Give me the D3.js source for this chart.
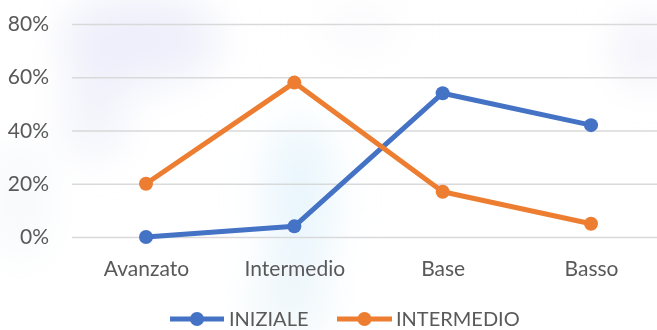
<!DOCTYPE html>
<html>
<head>
<meta charset="utf-8">
<script src="https://cdn.jsdelivr.net/npm/d3@7"></script>
<style>
  html, body { margin: 0; padding: 0; background: #ffffff; overflow: hidden; }
  svg { display: block; }
</style>
</head>
<body>
<svg id="chart" width="657" height="330"></svg>
<script>
// Levels on the x axis
const categories = ["Avanzato", "Intermedio", "Base", "Basso"];
// Share of students per level, two assessments
const seriesNames = ["INIZIALE", "INTERMEDIO"];
const iniziale = [0.00, 0.04, 0.54, 0.42];
const intermedio = [0.20, 0.58, 0.17, 0.05];
const yTicks = [0, 0.2, 0.4, 0.6, 0.8];

const colors = { INIZIALE: "#4472C4", INTERMEDIO: "#ED7D31" };
const series = [
  { name: seriesNames[0], values: iniziale },
  { name: seriesNames[1], values: intermedio }
];

const W = 657, H = 330;
const svg = d3.select("#chart");
const font = "Lato, 'Open Sans', sans-serif";

// Soft washed-out backdrop
const defs = svg.append("defs");
defs.append("filter").attr("id", "soft")
  .attr("x", "-50%").attr("y", "-50%").attr("width", "200%").attr("height", "200%")
  .append("feGaussianBlur").attr("stdDeviation", 20);
const bg = svg.append("g").attr("filter", "url(#soft)");
[
  { cx: 140, cy: 40, rx: 80, ry: 45, c: "#e3e5f7", o: 0.6 },
  { cx: 95, cy: 110, rx: 30, ry: 50, c: "#e6e8f7", o: 0.5 },
  { cx: 300, cy: 200, rx: 35, ry: 80, c: "#dcf0fb", o: 0.6 },
  { cx: 290, cy: 300, rx: 40, ry: 40, c: "#e2eff8", o: 0.5 },
  { cx: 645, cy: 50, rx: 30, ry: 35, c: "#e8e8f7", o: 0.6 },
  { cx: 360, cy: 30, rx: 40, ry: 20, c: "#efeff7", o: 0.4 },
  { cx: 20, cy: 200, rx: 30, ry: 60, c: "#f0f4f7", o: 0.5 }
].forEach(b => bg.append("ellipse")
  .attr("cx", b.cx).attr("cy", b.cy).attr("rx", b.rx).attr("ry", b.ry)
  .attr("fill", b.c).attr("opacity", b.o));

const x = d3.scalePoint().domain(categories).range([146, 591]);
const y = d3.scaleLinear().domain([0, 0.8]).range([237, 24]);

// Gridlines and percent labels
const yAxis = d3.axisLeft(y).tickValues(yTicks).tickFormat(d3.format(".0%"))
  .tickSize(-(W - 72)).tickPadding(23);
const gy = svg.append("g").attr("transform", "translate(72,0)").call(yAxis);
gy.select(".domain").remove();
gy.selectAll(".tick line").attr("stroke", "#d9d9d9").attr("stroke-width", 1.5);
gy.selectAll(".tick text").attr("fill", "#595959")
  .style("font-family", font).style("font-size", "21px");

// Category labels
const xAxis = d3.axisBottom(x).tickSize(0).tickPadding(0);
const gx = svg.append("g").attr("transform", "translate(0,261)").call(xAxis);
gx.select(".domain").remove();
gx.selectAll(".tick text").attr("fill", "#595959").attr("dy", "0.71em")
  .style("font-family", font).style("font-size", "21px");

// Lines with markers
const line = d3.line().x((d, i) => x(categories[i])).y(d => y(d));
series.forEach(s => {
  svg.append("path").datum(s.values)
    .attr("d", line).attr("fill", "none")
    .attr("stroke", colors[s.name]).attr("stroke-width", 5)
    .attr("stroke-linejoin", "round").attr("stroke-linecap", "round");
  svg.append("g").selectAll("circle").data(s.values).join("circle")
    .attr("cx", (d, i) => x(categories[i])).attr("cy", d => y(d))
    .attr("r", 7).attr("fill", colors[s.name]);
});

// Legend
const legendItems = [
  { name: seriesNames[0], x0: 170, x1: 224, tx: 229 },
  { name: seriesNames[1], x0: 337, x1: 392, tx: 396 }
];
const lg = svg.append("g");
legendItems.forEach(it => {
  const ly = 319;
  lg.append("line").attr("x1", it.x0).attr("x2", it.x1).attr("y1", ly).attr("y2", ly)
    .attr("stroke", colors[it.name]).attr("stroke-width", 5);
  lg.append("circle").attr("cx", (it.x0 + it.x1) / 2).attr("cy", ly).attr("r", 7)
    .attr("fill", colors[it.name]);
  lg.append("text").attr("x", it.tx).attr("y", 326).text(it.name)
    .attr("fill", "#595959").style("font-family", font).style("font-size", "20px");
});
</script>
</body>
</html>
